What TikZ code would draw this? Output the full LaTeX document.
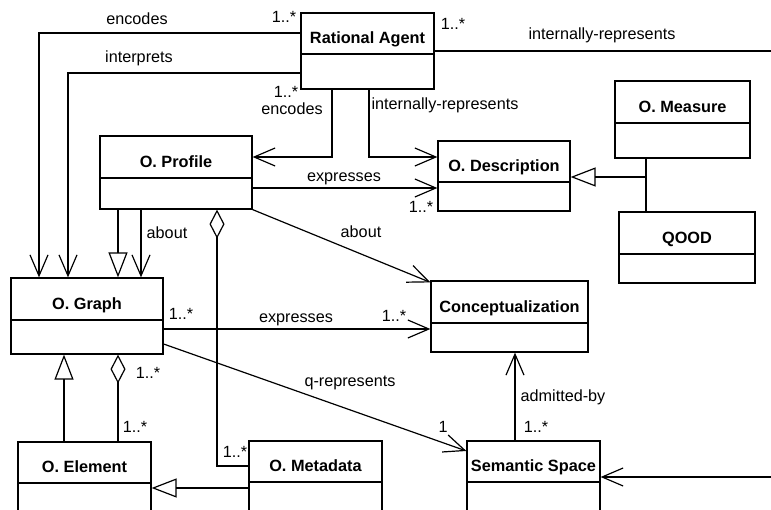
\documentclass[tikz,border=0pt]{standalone}
\usepackage{fontspec}
\setmainfont{Liberation Sans}
\usetikzlibrary{arrows.meta,fit,calc}
\newcommand\umlbox[7]{%
  \node[boxst, fit={(#2,#3) (#4,#6)}] (#1) {};
  \draw (#2,#5) -- (#4,#5);
  \node[ttl] (#1-t) at ({(#2+#4)/2},{#5-10.7}) {#7};
}
\begin{document}
\begin{tikzpicture}[x=1pt,y=-1pt, line width=1.2pt,
  lbl/.style={anchor=base, inner sep=0, font=\fontsize{16.2}{19}\selectfont},
  ttl/.style={anchor=base, inner sep=0, font=\fontsize{16.3}{19}\selectfont\bfseries},
  boxst/.style={draw, inner sep=0, line width=1.2pt},
  assoc/.style={-{Straight Barb[length=21pt,width=18pt]}},
  gen/.style={-{Triangle[open,length=25pt,width=19pt]}},
  aggr/.style={{Diamond[open,length=29pt,width=15pt]}-}]
\useasboundingbox (0,0) rectangle (771,510);
\clip (0,0) rectangle (771,510);
% classes
\umlbox{ra}{301}{13}{434}{54}{89}{Rational Agent}
\umlbox{op}{100}{136}{252}{178}{209}{O. Profile}
\umlbox{od}{438}{141}{570}{182}{211}{O. Description}
\umlbox{om}{615}{81}{750}{123}{158}{O. Measure}
\umlbox{qood}{619}{212}{755}{254}{283}{QOOD}
\umlbox{og}{11}{278}{163}{320}{354}{O. Graph}
\umlbox{cz}{431}{281}{588}{323}{352}{Conceptualization}
\umlbox{oe}{18}{442}{151}{483}{540}{O. Element}
\umlbox{omd}{249}{441}{382}{482}{540}{O. Metadata}
\umlbox{ss}{467}{441}{600}{482}{540}{Semantic Space}
\coordinate (rightA) at (771,51);
\coordinate (rightB) at (771,477);
\coordinate (mj) at (646,177);
% connectors
\draw[assoc] (ra.west |- 0,33) -| (og.north -| 39,0);
\draw[assoc] (ra.west |- 0,73) -| (og.north -| 68,0);
\draw[assoc] (ra.south -| 332,0) |- (op.east |- 0,157);
\draw[assoc] (ra.south -| 369,0) |- (od.west |- 0,157);
\draw[assoc] (op.east |- 0,188) -- (od.west |- 0,188);
\draw[assoc] (op.south east) -- ([yshift=-2pt]cz.north west);
\draw[gen] (op.south -| 118,0) -- (og.north -| 118,0);
\draw[assoc] (op.south -| 141,0) -- (og.north -| 141,0);
\draw[aggr] (op.south -| 217,0) |- (omd.west |- 0,466);
\draw (ra.east |- rightA) -- (rightA);
\draw (om.south -| mj) -- (qood.north -| mj);
\draw[gen] (mj) -- (od.east |- mj);
\draw[assoc] (og.east |- 0,329) -- (cz.west |- 0,329);
\draw[assoc] (og.east |- 0,344) -- (ss.west |- 0,451);
\draw[gen] (oe.north -| 64,0) -- (og.south -| 64,0);
\draw[aggr] (og.south -| 118,0) -- (oe.north -| 118,0);
\draw[gen] (omd.west |- 0,488) -- (oe.east |- 0,488);
\draw[assoc] (ss.north -| 515,0) -- (cz.south -| 515,0);
\draw[assoc] (rightB) -- (ss.east |- rightB);
% labels
\node[lbl] at (137,25) {encodes};
\node[lbl] at (284,23) {1..*};
\node[lbl] at (139,63) {interprets};
\node[lbl] at (286,98) {1..*};
\node[lbl] at (292,115) {encodes};
\node[lbl] at (445,110) {internally-represents};
\node[lbl] at (344,182) {expresses};
\node[lbl] at (421,213) {1..*};
\node[lbl] at (167,239) {about};
\node[lbl] at (361,238) {about};
\node[lbl] at (453,30) {1..*};
\node[lbl] at (602,40) {internally-represents};
\node[lbl] at (181,320) {1..*};
\node[lbl] at (296,323) {expresses};
\node[lbl] at (394,322) {1..*};
\node[lbl] at (350,387) {q-represents};
\node[lbl] at (148,379) {1..*};
\node[lbl] at (135,432) {1..*};
\node[lbl] at (235,457) {1..*};
\node[lbl] at (563,402) {admitted-by};
\node[lbl] at (536,432) {1..*};
\node[lbl] at (443,432) {1};
\end{tikzpicture}
\end{document}
